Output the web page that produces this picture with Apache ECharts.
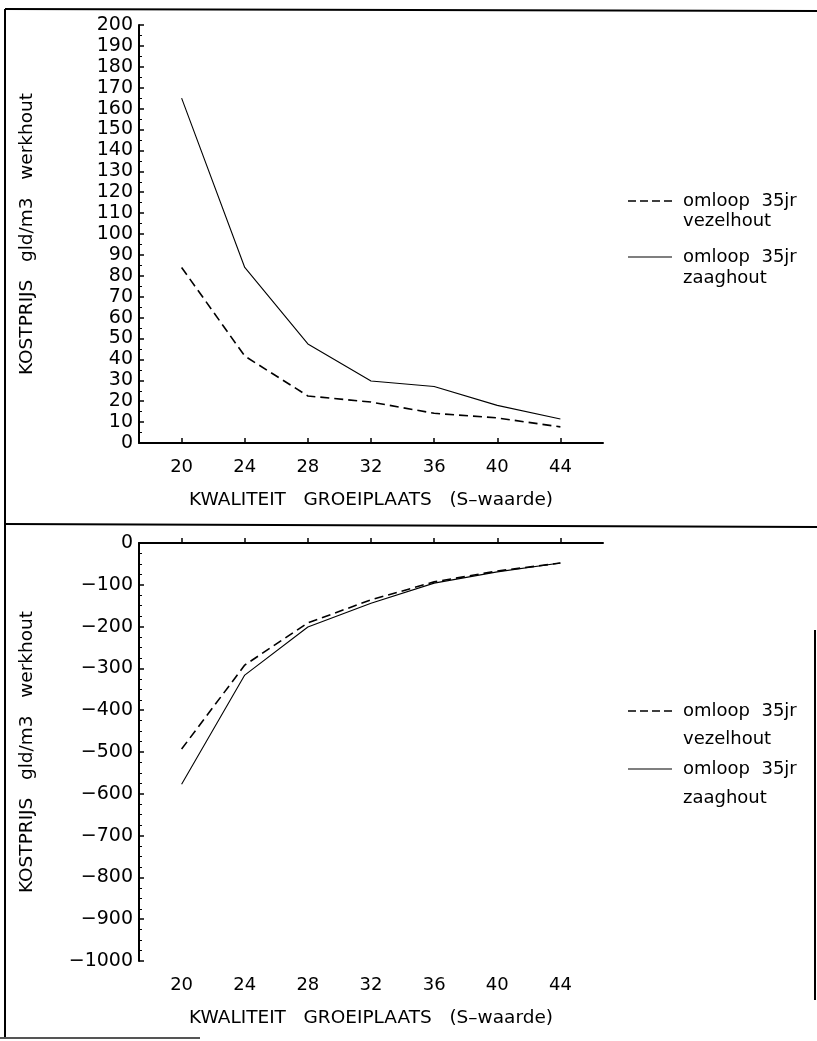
<!DOCTYPE html>
<html>
<head>
<meta charset="utf-8">
<script src="https://cdn.jsdelivr.net/npm/echarts@6/dist/echarts.min.js"></script>
<style>
html,body{margin:0;padding:0;background:#fff;}
#chart{width:817px;height:1041px;}
</style>
</head>
<body>
<div id="chart"></div>
<script>
// ---- data ----
const xValues = [20, 24, 28, 32, 36, 40, 44];
const topVezelhout = [84, 41.6, 22.5, 19.6, 14.2, 12, 7.7];
const topZaaghout = [165, 84, 47.4, 29.7, 27, 18, 11.5];
const bottomVezelhout = [-493, -292, -191, -136, -93, -67, -48];
const bottomZaaghout = [-577, -316, -201, -144, -96, -69, -48];
const xTickLabels = [20, 24, 28, 32, 36, 40, 44];
const legendLine1 = 'omloop  35jr';
const legendVezel = 'vezelhout';
const legendZaag = 'zaaghout';
const yAxisTitle = 'KOSTPRIJS   gld/m3   werkhout';
const xAxisTitle = 'KWALITEIT   GROEIPLAATS   (S\u2013waarde)';

const FONT = 'DejaVu Sans';
const pairs = (xs, ys) => xs.map((x, i) => [x, ys[i]]);

function xAxis(gridIndex) {
  return {
    type: 'value', gridIndex, min: 17.3, max: 46.7,
    name: xAxisTitle, nameLocation: 'middle', nameGap: 48,
    nameTextStyle: {fontFamily: FONT, fontSize: 18.5, color: '#000'},
    axisLine: {lineStyle: {color: '#000', width: 2}},
    axisTick: {inside: true, length: 5, customValues: xTickLabels, lineStyle: {color: '#000', width: 1.5}},
    axisLabel: {customValues: xTickLabels, fontFamily: FONT, fontSize: 18, color: '#000', margin: 15},
    splitLine: {show: false}
  };
}
function yAxis(gridIndex, min, max, interval, split) {
  return {
    type: 'value', gridIndex, min, max, interval,
    name: yAxisTitle, nameLocation: 'middle', nameGap: 102, nameRotate: 90,
    nameTextStyle: {fontFamily: FONT, fontSize: 18.5, color: '#000'},
    axisLine: {show: true, lineStyle: {color: '#000', width: 2}},
    axisTick: {show: true, inside: true, length: 5, lineStyle: {color: '#000', width: 1.5}},
    minorTick: {show: true, splitNumber: split, length: 3, lineStyle: {color: '#000', width: 1}},
    axisLabel: {fontFamily: FONT, fontSize: 19, color: '#000', margin: 6,
      formatter: v => String(v).replace('-', '\u2212')},
    splitLine: {show: false}
  };
}
const dashed = {color: '#000', width: 1.6, type: [9, 5]};
const solid = {color: '#000', width: 1.1};

const LFONT = '18px "DejaVu Sans"';
function legend(x, y, gap1, gap2) {
  const els = [];
  els.push({type: 'line', shape: {x1: x, y1: y, x2: x + 44, y2: y}, style: {stroke: '#000', lineWidth: 1.5, lineDash: [8, 4]}});
  els.push({type: 'text', x: x + 55, y: y, style: {text: legendLine1, font: LFONT, fill: '#000', verticalAlign: 'middle'}});
  els.push({type: 'text', x: x + 55, y: y + gap1, style: {text: legendVezel, font: LFONT, fill: '#000', verticalAlign: 'middle'}});
  const y2 = y + gap2;
  els.push({type: 'line', shape: {x1: x, y1: y2, x2: x + 44, y2: y2}, style: {stroke: '#000', lineWidth: 1.2}});
  els.push({type: 'text', x: x + 55, y: y2, style: {text: legendLine1, font: LFONT, fill: '#000', verticalAlign: 'middle'}});
  els.push({type: 'text', x: x + 55, y: y2 + gap1 + 1, style: {text: legendZaag, font: LFONT, fill: '#000', verticalAlign: 'middle'}});
  return els;
}

const frame = [
  {type: 'line', shape: {x1: 5, y1: 9, x2: 817, y2: 11}, style: {stroke: '#000', lineWidth: 2}},
  {type: 'line', shape: {x1: 5, y1: 9, x2: 5, y2: 1038}, style: {stroke: '#000', lineWidth: 2}},
  {type: 'line', shape: {x1: 5, y1: 524, x2: 817, y2: 527}, style: {stroke: '#000', lineWidth: 2}},
  {type: 'line', shape: {x1: 0, y1: 1038, x2: 200, y2: 1038}, style: {stroke: '#555', lineWidth: 2}},
  {type: 'line', shape: {x1: 815, y1: 630, x2: 815, y2: 1000}, style: {stroke: '#000', lineWidth: 2}}
];

const chart = echarts.init(document.getElementById('chart'), null, {renderer: 'canvas'});
chart.setOption({
  backgroundColor: '#fff',
  animation: false,
  grid: [
    {left: 139, top: 25, width: 464, height: 418},
    {left: 139, top: 543, width: 464, height: 418}
  ],
  xAxis: [xAxis(0), xAxis(1)],
  yAxis: [yAxis(0, 0, 200, 10, 2), yAxis(1, -1000, 0, 100, 4)],
  series: [
    {name: 'vezelhout top', type: 'line', xAxisIndex: 0, yAxisIndex: 0, data: pairs(xValues, topVezelhout), showSymbol: false, lineStyle: dashed},
    {name: 'zaaghout top', type: 'line', xAxisIndex: 0, yAxisIndex: 0, data: pairs(xValues, topZaaghout), showSymbol: false, lineStyle: solid},
    {name: 'vezelhout bottom', type: 'line', xAxisIndex: 1, yAxisIndex: 1, data: pairs(xValues, bottomVezelhout), showSymbol: false, lineStyle: dashed},
    {name: 'zaaghout bottom', type: 'line', xAxisIndex: 1, yAxisIndex: 1, data: pairs(xValues, bottomZaaghout), showSymbol: false, lineStyle: solid}
  ],
  graphic: [].concat(frame, legend(628, 201, 20, 56), legend(628, 711, 28, 58))
});
</script>
</body>
</html>
